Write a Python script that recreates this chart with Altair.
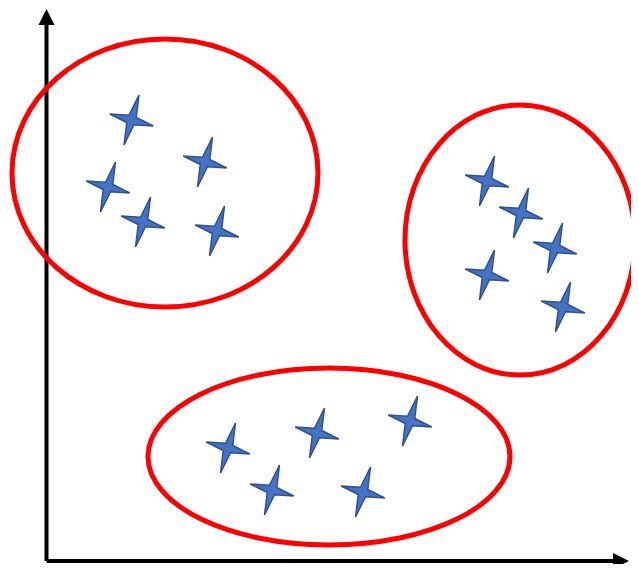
import altair as alt
import pandas as pd

# Star positions (axis units, origin at the axes corner, y upward)
star_x = [85, 158.5, 61.5, 96.5, 170.5,
          440.5, 474.5, 508.5, 440.5, 516.5,
          181.5, 270.5, 363.5, 225.5, 316.5]
star_y = [441, 399, 374, 339, 330,
          380, 348, 313, 286, 254,
          113, 128, 140, 71, 69]
star_group = ["A"] * 5 + ["B"] * 5 + ["C"] * 5

# Cluster ellipses: centre and radii
ell_name = ["A", "B", "C"]
ell_cx = [118.5, 473.5, 282.5]
ell_cy = [388, 321, 104.5]
ell_rx = [153, 115, 181]
ell_ry = [134, 135, 88.5]

# Axis extents
x_axis_end = [574.5]
y_axis_end = [544]

W, H = 623, 556
X_DOM = [-38.5, -38.5 + W]
Y_DOM = [553 - H, 553]

xs = alt.Scale(domain=X_DOM, nice=False, zero=False)
ys = alt.Scale(domain=Y_DOM, nice=False, zero=False)

STAR_PATH = ("M 0.3 -1 L 0.19 -0.1 L 0.87 0.24 L 0.1 0.19 "
             "L -0.3 1 L -0.19 0.1 L -0.87 -0.24 L -0.1 -0.19 Z")

stars_df = pd.DataFrame({"x": star_x, "y": star_y, "g": star_group})

stars = alt.Chart(stars_df).mark_point(
    shape=STAR_PATH, size=2500, filled=True, fill="#4472c4",
    stroke="#2f528f", strokeWidth=1.5, opacity=1
).encode(
    x=alt.X("x:Q", scale=xs, axis=None),
    y=alt.Y("y:Q", scale=ys, axis=None),
)

ell_layers = []
for n, cx, cy, rx, ry in zip(ell_name, ell_cx, ell_cy, ell_rx, ell_ry):
    m = max(rx, ry)
    a, b = rx / m, ry / m
    path = f"M {-a} 0 A {a} {b} 0 1 0 {a} 0 A {a} {b} 0 1 0 {-a} 0 Z"
    df = pd.DataFrame({"x": [cx], "y": [cy], "name": [n]})
    ell_layers.append(
        alt.Chart(df).mark_point(
            shape=path, size=(2 * m) ** 2, filled=False,
            stroke="#ff0000", strokeWidth=5, opacity=1
        ).encode(
            x=alt.X("x:Q", scale=xs, axis=None),
            y=alt.Y("y:Q", scale=ys, axis=None),
        )
    )

yaxis_df = pd.DataFrame({"x": [0], "y": [0], "y2": y_axis_end})
xaxis_df = pd.DataFrame({"x": [0], "x2": x_axis_end, "y": [0]})

yline = alt.Chart(yaxis_df).mark_rule(color="black", strokeWidth=4).encode(
    x=alt.X("x:Q", scale=xs, axis=None),
    y=alt.Y("y:Q", scale=ys, axis=None),
    y2="y2:Q",
)
xline = alt.Chart(xaxis_df).mark_rule(color="black", strokeWidth=4).encode(
    x=alt.X("x:Q", scale=xs, axis=None),
    x2="x2:Q",
    y=alt.Y("y:Q", scale=ys, axis=None),
)

up_df = pd.DataFrame({"x": [0], "y": y_axis_end})
right_df = pd.DataFrame({"x": x_axis_end, "y": [0]})

up_arrow = alt.Chart(up_df).mark_point(
    shape="M 0 -1 L 1 1 L -1 1 Z", size=256, filled=True,
    fill="black", opacity=1
).encode(
    x=alt.X("x:Q", scale=xs, axis=None),
    y=alt.Y("y:Q", scale=ys, axis=None),
)
right_arrow = alt.Chart(right_df).mark_point(
    shape="M 1 0 L -1 -1 L -1 1 Z", size=256, filled=True,
    fill="black", opacity=1
).encode(
    x=alt.X("x:Q", scale=xs, axis=None),
    y=alt.Y("y:Q", scale=ys, axis=None),
)

chart = alt.layer(
    yline, xline, up_arrow, right_arrow, *ell_layers, stars
).properties(
    width=W, height=H,
    autosize=alt.AutoSizeParams(type="none"),
    padding=0,
    background="white",
).configure_view(stroke=None)

chart.save("out.html", embed_options={"renderer": "svg", "actions": False})
